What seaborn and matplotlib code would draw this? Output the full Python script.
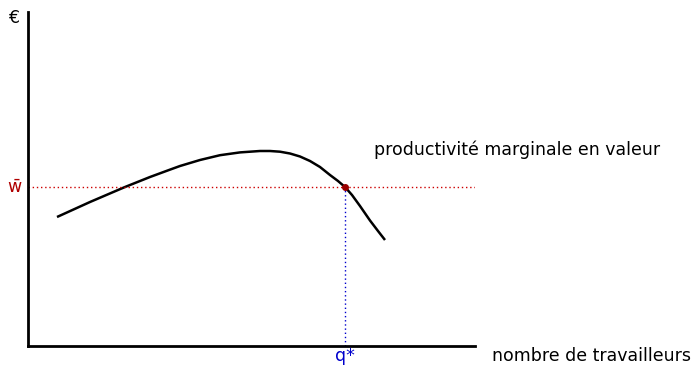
import numpy as np
import pandas as pd
import matplotlib
matplotlib.use("Agg")
import matplotlib.pyplot as plt
import seaborn as sns

# marginal productivity curve
workers = [29, 62, 97, 122, 141, 152, 172, 192, 212, 232, 242, 252, 262, 272,
           282, 292, 302, 310, 317, 324, 332, 342, 350, 357]
value = [129, 144, 159, 169, 176, 180, 186, 190.8, 193.6, 195, 195, 194.3, 192.5, 189.5,
         185, 179, 171, 165, 159, 151, 140, 125.5, 115, 106]

wage = 159
q_star = 317

x_max, y_max = 447, 334

sns.set_style("white")
plt.rcParams['font.family'] = ['DejaVu Sans']
plt.rcParams['text.color'] = 'black'

fig = plt.figure(figsize=(6.94, 3.66), dpi=100)
ax = fig.add_axes([28 / 694, 20 / 366, 447 / 694, 334 / 366])

df = pd.DataFrame({'q': workers, 'v': value})
sns.lineplot(data=df, x='q', y='v', ax=ax, color='black', linewidth=1.8, sort=False,
             solid_joinstyle='round', solid_capstyle='butt')

ax.axhline(wage, color='#cc0000', linestyle=(0, (1, 2)), linewidth=1)
ax.vlines(q_star, 0, wage, color='#0000cc', linestyles=(0, (1, 2)), linewidth=1)
ax.plot([q_star], [wage], 'o', color='#990000', markersize=4, zorder=5)

ax.set_xlim(0, x_max)
ax.set_ylim(0, y_max)
ax.set_xticks([])
ax.set_yticks([])
ax.set_xlabel('')
ax.set_ylabel('')
for s in ['top', 'right']:
    ax.spines[s].set_visible(False)
for s in ['left', 'bottom']:
    ax.spines[s].set_color('black')
    ax.spines[s].set_linewidth(2)

fs = 12.5
ax.text(-14, y_max - 6, '€', ha='center', va='center', fontsize=fs, clip_on=False)
ax.text(-14, wage, 'w\u0304', ha='center', va='center', fontsize=fs, color='#b00000', clip_on=False)
ax.text(q_star, -10, 'q*', ha='center', va='center', fontsize=fs, color='#0000cc', clip_on=False)
ax.text(346, 196, 'productivité marginale en valeur', ha='left', va='center', fontsize=fs, clip_on=False)
ax.text(464, -10, 'nombre de travailleurs', ha='left', va='center', fontsize=fs, clip_on=False)

fig.savefig('out.png', dpi=100)
